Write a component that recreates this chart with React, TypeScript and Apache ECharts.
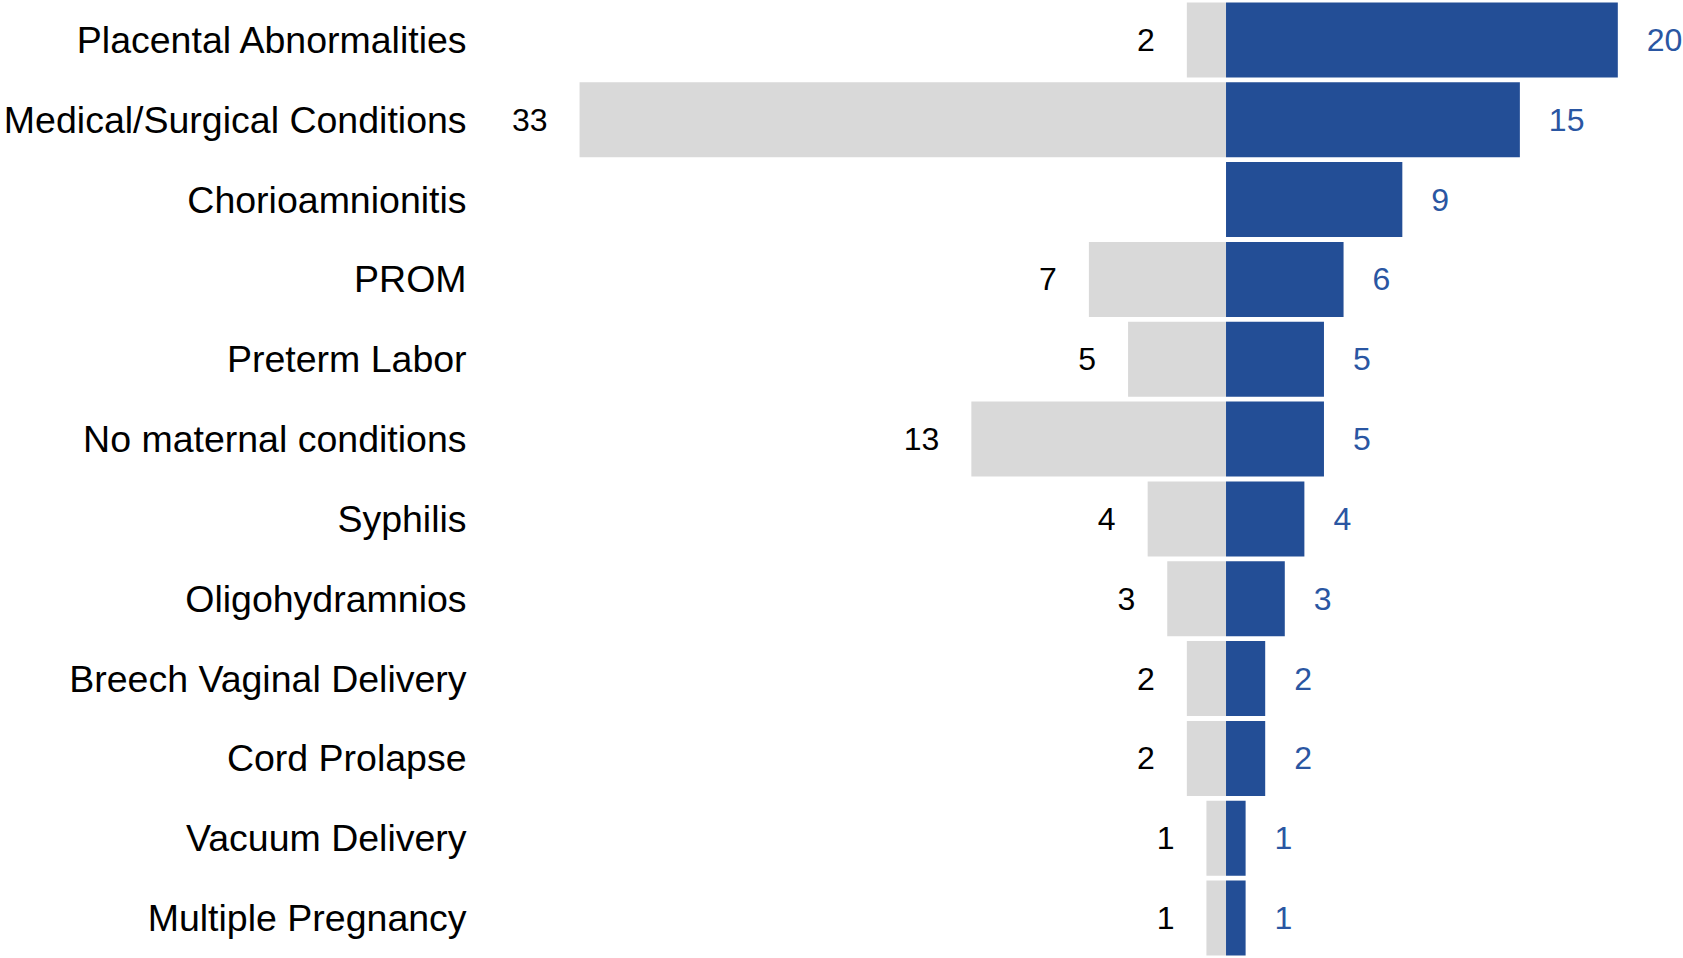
import React, { useEffect, useRef } from "react";
import * as echarts from "echarts";

const categories = [
  "Placental Abnormalities",
  "Medical/Surgical Conditions",
  "Chorioamnionitis",
  "PROM",
  "Preterm Labor",
  "No maternal conditions",
  "Syphilis",
  "Oligohydramnios",
  "Breech Vaginal Delivery",
  "Cord Prolapse",
  "Vacuum Delivery",
  "Multiple Pregnancy",
];
const grayValues: (number | null)[] = [2, 33, null, 7, 5, 13, 4, 3, 2, 2, 1, 1];
const blueValues: number[] = [20, 15, 9, 6, 5, 5, 4, 3, 2, 2, 1, 1];

const FONT = "'Liberation Sans', Arial, sans-serif";

export default function App() {
  const ref = useRef<HTMLDivElement>(null);
  useEffect(() => {
    if (!ref.current) return;
    const chart = echarts.init(ref.current, undefined, { renderer: "svg" });
    chart.setOption({
      animation: false,
      backgroundColor: "#ffffff",
      grid: { left: 481.6, top: 0, bottom: 0, width: 1175.4, containLabel: false },
      xAxis: {
        type: "value",
        min: -38,
        max: 22,
        show: false,
      },
      yAxis: {
        type: "category",
        data: categories,
        inverse: true,
        axisLine: { show: false, onZero: false },
        axisTick: { show: false },
        splitLine: { show: false },
        axisLabel: {
          margin: 15,
          fontSize: 37.5,
          color: "#000000",
          fontFamily: FONT,
        },
      },
      series: [
        {
          type: "bar",
          name: "gray",
          data: grayValues.map((v) => (v == null ? null : -v)),
          barGap: "-100%",
          barCategoryGap: "6%",
          itemStyle: { color: "#D9D9D9" },
          label: {
            show: true,
            position: "left",
            distance: 32,
            fontSize: 32,
            color: "#000000",
            fontFamily: FONT,
            formatter: (p: any) => (p.value == null ? "" : String(-p.value)),
          },
        },
        {
          type: "bar",
          name: "blue",
          data: blueValues,
          barGap: "-100%",
          barCategoryGap: "6%",
          itemStyle: { color: "#234E96" },
          label: {
            show: true,
            position: "right",
            distance: 29,
            fontSize: 32,
            color: "#2A56A2",
            fontFamily: FONT,
          },
        },
      ],
    });
    return () => chart.dispose();
  }, []);
  return (
    <div
      ref={ref}
      style={{ position: "fixed", left: 0, top: 0, width: 1683, height: 958, background: "#fff" }}
    />
  );
}
